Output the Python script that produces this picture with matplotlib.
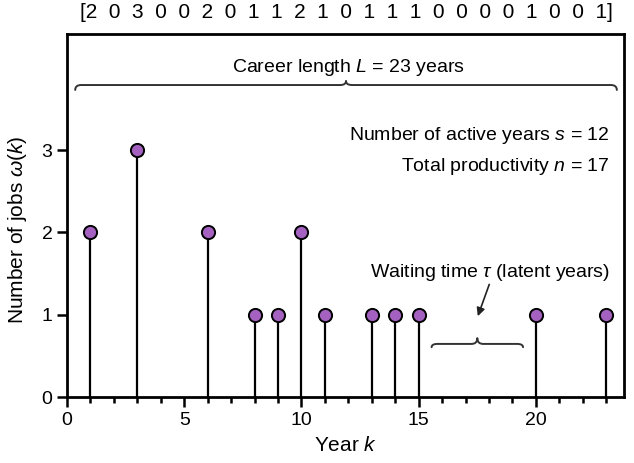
import numpy as np
import matplotlib
matplotlib.use('Agg')
import matplotlib.pyplot as plt
from matplotlib.path import Path
from matplotlib.patches import PathPatch

### Data: jobs per year over the career.
years = np.arange(1, 24)
jobs = [2, 0, 3, 0, 0, 2, 0, 1, 1, 2, 1, 0, 1, 1, 1, 0, 0, 0, 0, 1, 0, 0, 1]
career_len = 23
active_years = 12
total_prod = 17
wait_span = (15.55, 19.45)  # latent years under the small brace

plt.rcParams['font.family'] = ['Liberation Sans', 'DejaVu Sans']
plt.rcParams['mathtext.fontset'] = 'custom'
plt.rcParams['mathtext.rm'] = 'Liberation Sans'
plt.rcParams['mathtext.it'] = 'Liberation Sans:italic'

fig = plt.figure(figsize=(6.34, 4.63), dpi=100)
ax = fig.add_axes([0.1057, 0.1425, 0.8783, 0.7841])

jobs = np.array(jobs)
mask = jobs > 0
x, y = years[mask], jobs[mask]
ax.vlines(x, 0, y, color='k', lw=1.6, zorder=2)
ax.plot(x, y, 'o', ms=9.5, mfc='#a461bf', mec='k', mew=1.4, zorder=3)


def brace(ax, x0, x1, yb, h_tip, h_end, lw=1.0):
    # simple curly brace, tip pointing up
    xm = (x0 + x1) / 2.
    c = 0.25
    verts = [(x0, yb - h_end), (x0, yb), (x0 + c, yb),
             (xm - c, yb), (xm, yb), (xm, yb + h_tip),
             (xm, yb), (xm + c, yb),
             (x1 - c, yb), (x1, yb), (x1, yb - h_end)]
    codes = [Path.MOVETO, Path.CURVE3, Path.CURVE3,
             Path.LINETO, Path.CURVE3, Path.CURVE3,
             Path.CURVE3, Path.CURVE3,
             Path.LINETO, Path.CURVE3, Path.CURVE3]
    ax.add_patch(PathPatch(Path(verts, codes), fc='none', ec='#333333',
                           lw=lw, capstyle='round', joinstyle='round'))


brace(ax, 0.35, 23.45, 3.79, 0.05, 0.06, lw=1.4)
ax.text(12.0, 4.0, r'Career length $L$ = %d years' % career_len,
        ha='center', va='center', fontsize=14)
ax.text(23.16, 3.18, r'Number of active years $s$ = %d' % active_years,
        ha='right', va='center', fontsize=14)
ax.text(23.16, 2.80, r'Total productivity $n$ = %d' % total_prod,
        ha='right', va='center', fontsize=14)

brace(ax, wait_span[0], wait_span[1], 0.645, 0.07, 0.04, lw=1.4)
ax.text(23.16, 1.51, r'Waiting time $\tau$ (latent years)',
        ha='right', va='center', fontsize=14)
ax.annotate('', xy=(17.48, 0.95), xytext=(18.05, 1.40),
            arrowprops=dict(arrowstyle='-|>', color='#222222', lw=1.2,
                            mutation_scale=12))

# the raw sequence above the frame, widely spaced
ax.text(11.9, 4.67, '[' + '  '.join(str(v) for v in jobs) + ']',
        ha='center', va='center', fontsize=15, clip_on=False)

ax.set_xlim(0, 23.75)
ax.set_ylim(0, 4.41)
ax.set_xticks([0, 5, 10, 15, 20])
ax.set_xticks(np.arange(0, 24), minor=True)
ax.set_yticks([0, 1, 2, 3])
ax.tick_params(axis='both', which='major', direction='out', length=7,
               width=1.8, labelsize=14)
ax.tick_params(axis='x', which='minor', direction='out', length=4.5, width=1.8)
for s in ax.spines.values():
    s.set_linewidth(2)
ax.set_xlabel(r'Year $k$', fontsize=15, labelpad=5)
ax.set_ylabel(r'Number of jobs $\omega(k)$', fontsize=15)
ax.yaxis.set_label_coords(-0.068, 0.46)

fig.savefig('out.png', dpi=100)
